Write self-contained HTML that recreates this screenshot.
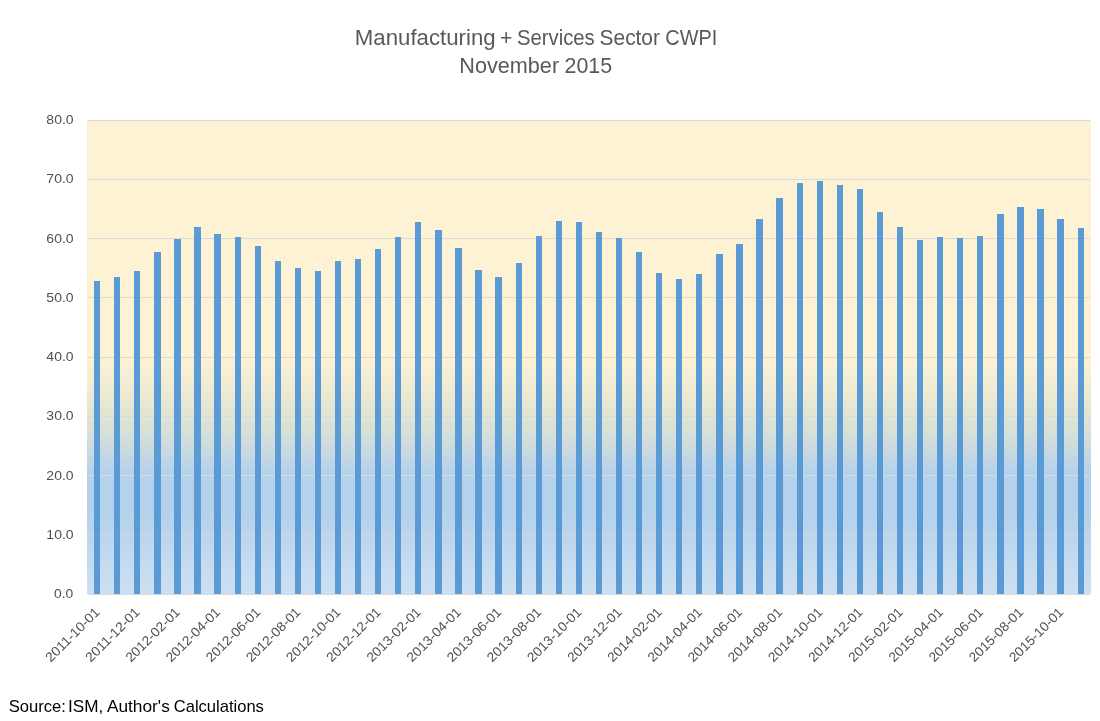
<!DOCTYPE html>
<html><head><meta charset="utf-8"><title>Manufacturing + Services Sector CWPI</title>
<style>html,body{margin:0;padding:0;background:#fff;}body{width:1100px;height:721px;overflow:hidden;font-family:"Liberation Sans",sans-serif;}svg{display:block;will-change:transform;}text{font-family:"Liberation Sans",sans-serif;}</style>
</head><body>
<svg width="1100" height="721" viewBox="0 0 1100 721">
<defs><linearGradient id="bg" x1="0" y1="0" x2="0" y2="1">
<stop offset="0" stop-color="#FEF2D4"/>
<stop offset="0.5" stop-color="#FEF2D4"/>
<stop offset="0.54" stop-color="rgb(245,238,211)"/>
<stop offset="0.593" stop-color="rgb(233,232,211)"/>
<stop offset="0.643" stop-color="rgb(219,226,214)"/>
<stop offset="0.667" stop-color="rgb(212,222,219)"/>
<stop offset="0.686" stop-color="rgb(205,219,223)"/>
<stop offset="0.709" stop-color="rgb(196,216,228)"/>
<stop offset="0.74" stop-color="#B5D2EC"/>
<stop offset="0.83" stop-color="#B5D2EC"/>
<stop offset="1" stop-color="#CDE0F2"/>
</linearGradient></defs>
<rect x="0" y="0" width="1100" height="721" fill="#ffffff"/>
<rect x="87" y="120" width="1004" height="474" fill="url(#bg)"/>
<g fill="#D9D9D9" shape-rendering="crispEdges">
<rect x="88" y="594" width="1002" height="1"/>
<rect x="88" y="534" width="1002" height="1"/>
<rect x="88" y="475" width="1002" height="1"/>
<rect x="88" y="416" width="1002" height="1"/>
<rect x="88" y="357" width="1002" height="1"/>
<rect x="88" y="297" width="1002" height="1"/>
<rect x="88" y="238" width="1002" height="1"/>
<rect x="88" y="179" width="1002" height="1"/>
<rect x="88" y="120" width="1002" height="1"/>
</g>
<g fill="#5B9BD5" shape-rendering="crispEdges">
<rect x="94" y="281" width="6" height="313"/>
<rect x="114" y="277" width="6" height="317"/>
<rect x="134" y="271" width="6" height="323"/>
<rect x="154" y="252" width="7" height="342"/>
<rect x="174" y="239" width="7" height="355"/>
<rect x="194" y="227" width="7" height="367"/>
<rect x="214" y="234" width="7" height="360"/>
<rect x="235" y="237" width="6" height="357"/>
<rect x="255" y="246" width="6" height="348"/>
<rect x="275" y="261" width="6" height="333"/>
<rect x="295" y="268" width="6" height="326"/>
<rect x="315" y="271" width="6" height="323"/>
<rect x="335" y="261" width="6" height="333"/>
<rect x="355" y="259" width="6" height="335"/>
<rect x="375" y="249" width="6" height="345"/>
<rect x="395" y="237" width="6" height="357"/>
<rect x="415" y="222" width="6" height="372"/>
<rect x="435" y="230" width="7" height="364"/>
<rect x="455" y="248" width="7" height="346"/>
<rect x="475" y="270" width="7" height="324"/>
<rect x="495" y="277" width="7" height="317"/>
<rect x="516" y="263" width="6" height="331"/>
<rect x="536" y="236" width="6" height="358"/>
<rect x="556" y="221" width="6" height="373"/>
<rect x="576" y="222" width="6" height="372"/>
<rect x="596" y="232" width="6" height="362"/>
<rect x="616" y="238" width="6" height="356"/>
<rect x="636" y="252" width="6" height="342"/>
<rect x="656" y="273" width="6" height="321"/>
<rect x="676" y="279" width="6" height="315"/>
<rect x="696" y="274" width="6" height="320"/>
<rect x="716" y="254" width="7" height="340"/>
<rect x="736" y="244" width="7" height="350"/>
<rect x="756" y="219" width="7" height="375"/>
<rect x="776" y="198" width="7" height="396"/>
<rect x="797" y="183" width="6" height="411"/>
<rect x="817" y="181" width="6" height="413"/>
<rect x="837" y="185" width="6" height="409"/>
<rect x="857" y="189" width="6" height="405"/>
<rect x="877" y="212" width="6" height="382"/>
<rect x="897" y="227" width="6" height="367"/>
<rect x="917" y="240" width="6" height="354"/>
<rect x="937" y="237" width="6" height="357"/>
<rect x="957" y="238" width="6" height="356"/>
<rect x="977" y="236" width="6" height="358"/>
<rect x="997" y="214" width="7" height="380"/>
<rect x="1017" y="207" width="7" height="387"/>
<rect x="1037" y="209" width="7" height="385"/>
<rect x="1057" y="219" width="7" height="375"/>
<rect x="1078" y="228" width="6" height="366"/>
</g>
<g fill="#595959" font-size="21.4px">
<text x="354.78" y="45" textLength="140.91" lengthAdjust="spacingAndGlyphs">Manufacturing</text>
<text x="500.11" y="45" textLength="12.38" lengthAdjust="spacingAndGlyphs">+</text>
<text x="517.05" y="45" textLength="77.69" lengthAdjust="spacingAndGlyphs">Services</text>
<text x="599.62" y="45" textLength="60.3" lengthAdjust="spacingAndGlyphs">Sector</text>
<text x="665.35" y="45" textLength="51.89" lengthAdjust="spacingAndGlyphs">CWPI</text>
<text x="459.33" y="73" textLength="99.77" lengthAdjust="spacingAndGlyphs">November</text>
<text x="564.58" y="73" textLength="47.59" lengthAdjust="spacingAndGlyphs">2015</text>
</g>
<g fill="#505050" font-size="13.3px">
<text x="54.08" y="598.10" textLength="19.24" lengthAdjust="spacingAndGlyphs">0.0</text>
<text x="46.34" y="538.85" textLength="27.3" lengthAdjust="spacingAndGlyphs">10.0</text>
<text x="46.34" y="479.60" textLength="27.3" lengthAdjust="spacingAndGlyphs">20.0</text>
<text x="46.34" y="420.35" textLength="27.3" lengthAdjust="spacingAndGlyphs">30.0</text>
<text x="46.34" y="361.10" textLength="27.3" lengthAdjust="spacingAndGlyphs">40.0</text>
<text x="46.34" y="301.85" textLength="27.3" lengthAdjust="spacingAndGlyphs">50.0</text>
<text x="46.34" y="242.60" textLength="27.3" lengthAdjust="spacingAndGlyphs">60.0</text>
<text x="46.34" y="183.35" textLength="27.3" lengthAdjust="spacingAndGlyphs">70.0</text>
<text x="46.34" y="124.10" textLength="27.3" lengthAdjust="spacingAndGlyphs">80.0</text>
</g>
<g fill="#505050" font-size="13.3px" text-anchor="end">
<text transform="translate(100.5,613.0) rotate(-45)" textLength="70.5" lengthAdjust="spacingAndGlyphs">2011-10-01</text>
<text transform="translate(140.6,613.0) rotate(-45)" textLength="70.5" lengthAdjust="spacingAndGlyphs">2011-12-01</text>
<text transform="translate(180.8,613.0) rotate(-45)" textLength="70.5" lengthAdjust="spacingAndGlyphs">2012-02-01</text>
<text transform="translate(221.0,613.0) rotate(-45)" textLength="70.5" lengthAdjust="spacingAndGlyphs">2012-04-01</text>
<text transform="translate(261.1,613.0) rotate(-45)" textLength="70.5" lengthAdjust="spacingAndGlyphs">2012-06-01</text>
<text transform="translate(301.3,613.0) rotate(-45)" textLength="70.5" lengthAdjust="spacingAndGlyphs">2012-08-01</text>
<text transform="translate(341.4,613.0) rotate(-45)" textLength="70.5" lengthAdjust="spacingAndGlyphs">2012-10-01</text>
<text transform="translate(381.6,613.0) rotate(-45)" textLength="70.5" lengthAdjust="spacingAndGlyphs">2012-12-01</text>
<text transform="translate(421.8,613.0) rotate(-45)" textLength="70.5" lengthAdjust="spacingAndGlyphs">2013-02-01</text>
<text transform="translate(461.9,613.0) rotate(-45)" textLength="70.5" lengthAdjust="spacingAndGlyphs">2013-04-01</text>
<text transform="translate(502.1,613.0) rotate(-45)" textLength="70.5" lengthAdjust="spacingAndGlyphs">2013-06-01</text>
<text transform="translate(542.2,613.0) rotate(-45)" textLength="70.5" lengthAdjust="spacingAndGlyphs">2013-08-01</text>
<text transform="translate(582.4,613.0) rotate(-45)" textLength="70.5" lengthAdjust="spacingAndGlyphs">2013-10-01</text>
<text transform="translate(622.6,613.0) rotate(-45)" textLength="70.5" lengthAdjust="spacingAndGlyphs">2013-12-01</text>
<text transform="translate(662.7,613.0) rotate(-45)" textLength="70.5" lengthAdjust="spacingAndGlyphs">2014-02-01</text>
<text transform="translate(702.9,613.0) rotate(-45)" textLength="70.5" lengthAdjust="spacingAndGlyphs">2014-04-01</text>
<text transform="translate(743.0,613.0) rotate(-45)" textLength="70.5" lengthAdjust="spacingAndGlyphs">2014-06-01</text>
<text transform="translate(783.2,613.0) rotate(-45)" textLength="70.5" lengthAdjust="spacingAndGlyphs">2014-08-01</text>
<text transform="translate(823.4,613.0) rotate(-45)" textLength="70.5" lengthAdjust="spacingAndGlyphs">2014-10-01</text>
<text transform="translate(863.5,613.0) rotate(-45)" textLength="70.5" lengthAdjust="spacingAndGlyphs">2014-12-01</text>
<text transform="translate(903.7,613.0) rotate(-45)" textLength="70.5" lengthAdjust="spacingAndGlyphs">2015-02-01</text>
<text transform="translate(943.9,613.0) rotate(-45)" textLength="70.5" lengthAdjust="spacingAndGlyphs">2015-04-01</text>
<text transform="translate(984.0,613.0) rotate(-45)" textLength="70.5" lengthAdjust="spacingAndGlyphs">2015-06-01</text>
<text transform="translate(1024.2,613.0) rotate(-45)" textLength="70.5" lengthAdjust="spacingAndGlyphs">2015-08-01</text>
<text transform="translate(1064.3,613.0) rotate(-45)" textLength="70.5" lengthAdjust="spacingAndGlyphs">2015-10-01</text>
</g>
<g fill="#000000" font-size="15.9px">
<text x="8.72" y="711.8" textLength="57.16" lengthAdjust="spacingAndGlyphs">Source:</text>
<text x="68.08" y="711.8" textLength="35.25" lengthAdjust="spacingAndGlyphs">ISM,</text>
<text x="106.9" y="711.8" textLength="62.91" lengthAdjust="spacingAndGlyphs">Author&#39;s</text>
<text x="173.72" y="711.8" textLength="90.17" lengthAdjust="spacingAndGlyphs">Calculations</text>
</g>
</svg></body></html>
